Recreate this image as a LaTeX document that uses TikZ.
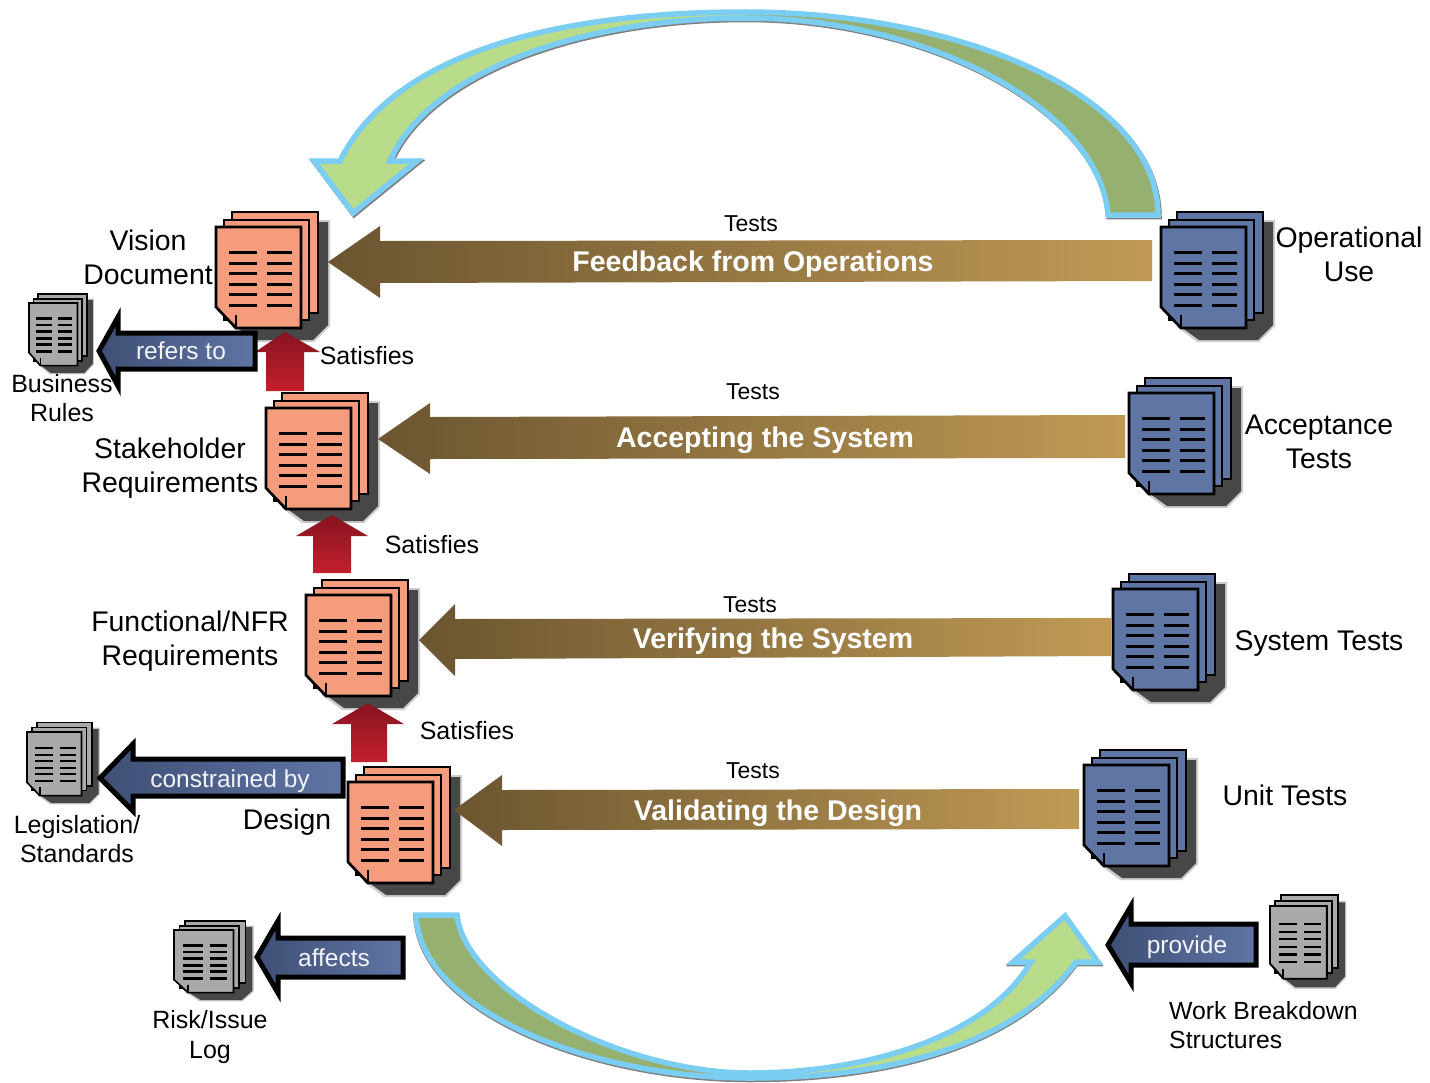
\documentclass[tikz,border=0pt]{standalone}
\usepackage{fontspec}
\setmainfont{Liberation Sans}
\usetikzlibrary{calc}
\definecolor{salmon}{HTML}{F59C7C}
\definecolor{docblue}{HTML}{5F75A3}
\definecolor{docgrey}{HTML}{A9A9A9}
\definecolor{skyb}{HTML}{7CCDF2}
\definecolor{lgreen}{HTML}{B8DC8A}
\definecolor{dgreen}{HTML}{96B070}
\definecolor{brownA}{HTML}{6B5530}
\definecolor{brownB}{HTML}{C09A55}
\definecolor{redA}{HTML}{85141F}
\definecolor{redB}{HTML}{C41F2E}
\definecolor{navyA}{HTML}{3F4F75}
\definecolor{navyB}{HTML}{6075A5}
\tikzset{
  biglabel/.style={font=\fontsize{28.4}{34}\selectfont,align=center,inner sep=0pt,text=black},
  smalllabel/.style={font=\fontsize{25}{29.5}\selectfont,align=center,inner sep=0pt,text=black},
  testlabel/.style={font=\fontsize{23}{28}\selectfont,inner sep=0pt,text=black},
  sat/.style={font=\fontsize{25}{30}\selectfont,inner sep=0pt,text=black},
  boldlabel/.style={font=\fontsize{28.5}{34}\selectfont\bfseries,inner sep=0pt,text=white},
  navylabel/.style={font=\fontsize{24.5}{30}\selectfont,inner sep=0pt,text=white!92!navyB},
  brownarrow/.style={left color=brownA,right color=brownB,draw=none},
  redarrow/.style={top color=redA,bottom color=redB,draw=none},
  navyarrow/.style={left color=navyA,right color=navyB,draw=black,line width=5pt,miter limit=10},
  bandline/.style={draw=skyb,line width=5.5pt,line join=miter},
  bandshadow/.style={draw=gray,line width=5.5pt,line join=miter}
}
% name, x, y, fill, xscale, yscale
\newcommand{\docstack}[6]{%
 \coordinate (#1) at (#2,#3);
 \begin{scope}[shift={(#2,#3)},xscale=#5,yscale=#6]
  \fill[gray!40] (97,-7)--(114,-7)--(114,99)--(98,115)--(36,115)--(16,100)--cycle;
  \fill[black!72] (99,-5)--(112,-5)--(112,98)--(97,113)--(38,113)--(20,100)--cycle;
  \begin{scope}[draw=black,line width={#6*2.7pt},fill=#4,line join=miter]
   \filldraw (16,-15) rectangle (102,86);
   \filldraw (8,-7) rectangle (93,93);
   \filldraw (0,0)--(85,0)--(85,101)--(20,101)--(0,80)--cycle;
   \draw (20,88)--(20,101);
  \end{scope}
  \foreach \yy in {25,36,46,57,67,78}{
   \draw[black,line width={#6*1.8pt+1.2pt}] (13,\yy)--(41,\yy) (51,\yy)--(76,\yy);
  }
 \end{scope}}
\def\upperband{(1158,215) .. controls (1158,95) and (960,12) .. (745,12)
  .. controls (540,12) and (390,60) .. (340,161) -- (314,161) -- (353,213) -- (417,161) -- (390,161)
  .. controls (430,70) and (585,18) .. (745,18)
  .. controls (930,18) and (1100,110) .. (1108,215) -- cycle}
\def\lowerband{(416,915) .. controls (420,1010) and (590,1078) .. (750,1078)
  .. controls (900,1078) and (1020,1040) .. (1076,962) -- (1098,962) -- (1065,916) -- (1013,962) -- (1031,962)
  .. controls (985,1040) and (860,1073) .. (750,1073)
  .. controls (620,1073) and (465,990) .. (457,915) -- cycle}
\begin{document}
\begin{tikzpicture}[x=1pt,y=-1pt]
\useasboundingbox (0,0) rectangle (1430,1082);
\fill[white] (0,0) rectangle (1430,1082);

% curved arrows
\draw[bandshadow,shift={(1,1.5)}] \upperband;
\fill[lgreen] \upperband;
\begin{scope}
 \clip (745,0) rectangle (1200,240);
 \fill[dgreen] \upperband;
\end{scope}
\draw[bandline] \upperband;

\draw[bandshadow,shift={(0,1.5)}] \lowerband;
\fill[lgreen] \lowerband;
\begin{scope}
 \clip (380,900) rectangle (750,1082);
 \fill[dgreen] \lowerband;
\end{scope}
\draw[bandline] \lowerband;

% documents
\docstack{vision}{216}{227}{salmon}{1}{1}
\docstack{stake}{266}{408}{salmon}{1}{1}
\docstack{func}{306}{595}{salmon}{1}{1}
\docstack{design}{348}{782}{salmon}{1}{1}
\docstack{oper}{1161}{227}{docblue}{1}{1}
\docstack{accept}{1129}{393}{docblue}{1}{1}
\docstack{system}{1113}{589}{docblue}{1}{1}
\docstack{unit}{1084}{765}{docblue}{1}{1}
\docstack{business}{29}{303}{docgrey}{.57}{.62}
\docstack{legis}{27}{732}{docgrey}{.64}{.63}
\docstack{risk}{174}{930}{docgrey}{.7}{.62}
\docstack{work}{1270}{906}{docgrey}{.67}{.72}

% red arrows
\path[redarrow,shade] (285,332)--(320,352)--(304,352)--(304,391)--(266,391)--(266,352)--(255,352)--cycle;
\path[redarrow,shade] (332,515)--(368,536)--(351,536)--(351,573)--(313,573)--(313,536)--(296,536)--cycle;
\path[redarrow,shade] (368,703)--(404,724)--(387,724)--(387,762)--(351,762)--(351,724)--(332,724)--cycle;

% brown arrows
\path[brownarrow,shade] (328,262)--(380,226)--(380,241)--(1152,240)--(1152,281)--(380,283)--(380,298)--cycle;
\path[brownarrow,shade] (378,439)--(430,403)--(430,417)--(1125,415)--(1125,458)--(430,459)--(430,474)--cycle;
\path[brownarrow,shade] (419,640)--(455,604)--(455,619)--(1111,618)--(1111,656)--(455,659)--(455,676)--cycle;
\path[brownarrow,shade] (454,810)--(502,775)--(502,790)--(1079,789)--(1079,829)--(502,830)--(502,846)--cycle;

% navy arrows
\path[navyarrow,shade] (99,351)--(118,317)--(118,333)--(255,333)--(255,369)--(118,369)--(118,386)--cycle;
\path[navyarrow,shade] (100,778)--(133,744)--(133,759)--(343,759)--(343,796)--(133,796)--(133,811)--cycle;
\path[navyarrow,shade] (257,957)--(278,921)--(278,938)--(403,938)--(403,977)--(278,977)--(278,993)--cycle;
\path[navyarrow,shade] (1108,945)--(1131,906)--(1131,924)--(1256,924)--(1256,965)--(1131,965)--(1131,983)--cycle;

% labels
\node[biglabel] (tvision) at (148,257.5) {Vision\\Document};
\node[biglabel] (toper) at (1349,254.5) {Operational\\Use};
\node[biglabel] (taccept) at (1319,441.5) {Acceptance\\Tests};
\node[biglabel] (tsystem) at (1319,644) {System Tests};
\node[biglabel] (tunit) at (1285,795) {Unit Tests};
\node[biglabel] (tstake) at (170,468) {Stakeholder\\Requirements};
\node[biglabel] (tfunc) at (190,641.5) {Functional/NFR\\Requirements};
\node[biglabel] (tdesign) at (287,822) {Design};
\node[smalllabel] (tbusiness) at (62,398) {Business\\Rules};
\node[smalllabel] (tlegis) at (77,839) {Legislation/\\Standards};
\node[smalllabel] (trisk) at (210,1037) {Risk/Issue\\Log};
\node[smalllabel,align=left,anchor=west,font=\fontsize{24.8}{29}\selectfont] (twork) at (1169,1025.5) {Work Breakdown\\Structures};
\node[testlabel] (ta) at (751,224) {Tests};
\node[testlabel] (tb) at (753,392) {Tests};
\node[testlabel] (tc) at (750,605) {Tests};
\node[testlabel] (td) at (753,771) {Tests};
\node[sat] (sa) at (367,356) {Satisfies};
\node[sat] (sb) at (432,545) {Satisfies};
\node[sat] (sc) at (467,731) {Satisfies};
\node[boldlabel] (ba) at (753,264) {Feedback from Operations};
\node[boldlabel] (bb) at (765,440) {Accepting the System};
\node[boldlabel] (bc) at (773,641) {Verifying the System};
\node[boldlabel] (bd) at (778,813) {Validating the Design};
\node[navylabel] (na) at (181,351) {refers to};
\node[navylabel] (nb) at (230,781) {constrained by};
\node[navylabel] (nc) at (334,958) {affects};
\node[navylabel] (nd) at (1187,947) {provide};
\end{tikzpicture}
\end{document}
